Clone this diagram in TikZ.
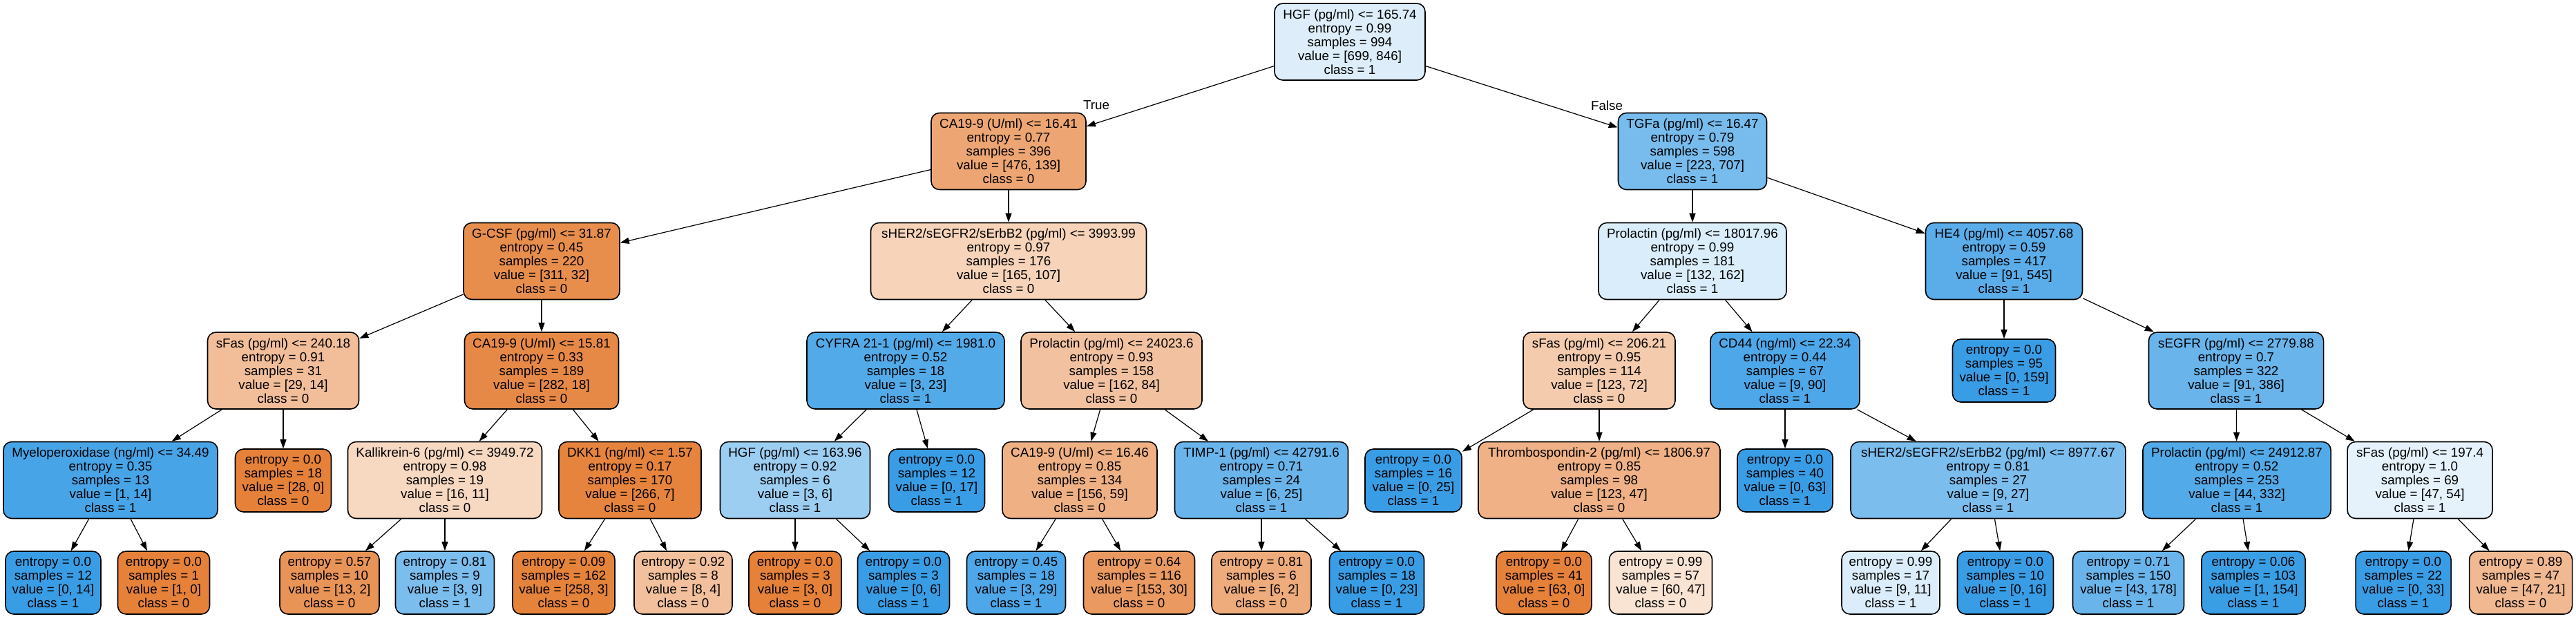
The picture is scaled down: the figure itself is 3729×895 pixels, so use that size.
\documentclass[tikz,border=0pt]{standalone}
\usepackage{fontspec}
\setmainfont{Liberation Sans}
\usetikzlibrary{arrows.meta}
\definecolor{cz}{RGB}{229,129,57}
\definecolor{co}{RGB}{57,157,229}
\tikzset{
  nd/.style={draw=black, line width=0.8pt, rounded corners=6pt, align=center, inner sep=0pt, font=\fontsize{9.4}{10}\selectfont},
  inn/.style={nd, minimum height=55.5pt},
  lf/.style={nd, minimum height=45.5pt},
  edge/.style={line width=0.6pt, -{Triangle[length=6.5pt,width=4.5pt]}},
  lbl/.style={font=\fontsize{9.4}{10}\selectfont, inner sep=0pt},
}
\begin{document}
\begin{tikzpicture}[x=0.5pt,y=-0.5pt]
\path[fill=white] (0,0) rectangle (3729,895);
\useasboundingbox (0,0) rectangle (3729,895);
% level 0
\node[inn, fill=co!17.4!white, minimum width=109pt] (n0) at (1954,60.5) {HGF (pg/ml) <= 165.74\\entropy = 0.99\\samples = 994\\value = [699, 846]\\class = 1};
% level 1
\node[inn, fill=cz!70.8!white, minimum width=112pt] (n1) at (1460,219) {CA19-9 (U/ml) <= 16.41\\entropy = 0.77\\samples = 396\\value = [476, 139]\\class = 0};
\node[inn, fill=co!68.5!white, minimum width=107.5pt] (n2) at (2450,219) {TGFa (pg/ml) <= 16.47\\entropy = 0.79\\samples = 598\\value = [223, 707]\\class = 1};
% level 2
\node[inn, fill=cz!89.7!white, minimum width=113pt] (n3) at (784,378) {G-CSF (pg/ml) <= 31.87\\entropy = 0.45\\samples = 220\\value = [311, 32]\\class = 0};
\node[inn, fill=cz!35.2!white, minimum width=199.5pt] (n4) at (1460,378) {sHER2/sEGFR2/sErbB2 (pg/ml) <= 3993.99\\entropy = 0.97\\samples = 176\\value = [165, 107]\\class = 0};
\node[inn, fill=co!18.5!white, minimum width=136pt] (n5) at (2450,378) {Prolactin (pg/ml) <= 18017.96\\entropy = 0.99\\samples = 181\\value = [132, 162]\\class = 1};
\node[inn, fill=co!83.3!white, minimum width=113.5pt] (n6) at (2901,378) {HE4 (pg/ml) <= 4057.68\\entropy = 0.59\\samples = 417\\value = [91, 545]\\class = 1};
% level 3
\node[inn, fill=cz!51.7!white, minimum width=109.5pt] (n7) at (410,536.5) {sFas (pg/ml) <= 240.18\\entropy = 0.91\\samples = 31\\value = [29, 14]\\class = 0};
\node[inn, fill=cz!93.6!white, minimum width=111.5pt] (n8) at (784,536.5) {CA19-9 (U/ml) <= 15.81\\entropy = 0.33\\samples = 189\\value = [282, 18]\\class = 0};
\node[inn, fill=co!87!white, minimum width=143pt] (n9) at (1311,536.5) {CYFRA 21-1 (pg/ml) <= 1981.0\\entropy = 0.52\\samples = 18\\value = [3, 23]\\class = 1};
\node[inn, fill=cz!48.1!white, minimum width=131pt] (n10) at (1609,536.5) {Prolactin (pg/ml) <= 24023.6\\entropy = 0.93\\samples = 158\\value = [162, 84]\\class = 0};
\node[inn, fill=cz!41.5!white, minimum width=110pt] (n11) at (2315,536.5) {sFas (pg/ml) <= 206.21\\entropy = 0.95\\samples = 114\\value = [123, 72]\\class = 0};
\node[inn, fill=co!90!white, minimum width=108pt] (n12) at (2584,536.5) {CD44 (ng/ml) <= 22.34\\entropy = 0.44\\samples = 67\\value = [9, 90]\\class = 1};
\node[lf, fill=co, minimum width=74.5pt] (n13) at (2901,536.5) {entropy = 0.0\\samples = 95\\value = [0, 159]\\class = 1};
\node[inn, fill=co!76.4!white, minimum width=126.5pt] (n14) at (3237,536.5) {sEGFR (pg/ml) <= 2779.88\\entropy = 0.7\\samples = 322\\value = [91, 386]\\class = 1};
% level 4
\node[inn, fill=co!92.9!white, minimum width=155pt] (n15) at (160,695) {Myeloperoxidase (ng/ml) <= 34.49\\entropy = 0.35\\samples = 13\\value = [1, 14]\\class = 1};
\node[lf, fill=cz, minimum width=69.5pt] (n16) at (410,695.5) {entropy = 0.0\\samples = 18\\value = [28, 0]\\class = 0};
\node[inn, fill=cz!31.3!white, minimum width=140.5pt] (n17) at (644,695) {Kallikrein-6 (pg/ml) <= 3949.72\\entropy = 0.98\\samples = 19\\value = [16, 11]\\class = 0};
\node[inn, fill=cz!97.4!white, minimum width=103pt] (n18) at (912,695) {DKK1 (ng/ml) <= 1.57\\entropy = 0.17\\samples = 170\\value = [266, 7]\\class = 0};
\node[inn, fill=co!50!white, minimum width=108.5pt] (n19) at (1151,695) {HGF (pg/ml) <= 163.96\\entropy = 0.92\\samples = 6\\value = [3, 6]\\class = 1};
\node[lf, fill=co, minimum width=69.5pt] (n20) at (1356,695.5) {entropy = 0.0\\samples = 12\\value = [0, 17]\\class = 1};
\node[inn, fill=cz!62.2!white, minimum width=112pt] (n21) at (1563,695) {CA19-9 (U/ml) <= 16.46\\entropy = 0.85\\samples = 134\\value = [156, 59]\\class = 0};
\node[inn, fill=co!76!white, minimum width=125.5pt] (n22) at (1826,695) {TIMP-1 (pg/ml) <= 42791.6\\entropy = 0.71\\samples = 24\\value = [6, 25]\\class = 1};
\node[lf, fill=co, minimum width=70pt] (n23) at (2046,695.5) {entropy = 0.0\\samples = 16\\value = [0, 25]\\class = 1};
\node[inn, fill=cz!61.8!white, minimum width=175pt] (n24) at (2315,695) {Thrombospondin-2 (pg/ml) <= 1806.97\\entropy = 0.85\\samples = 98\\value = [123, 47]\\class = 0};
\node[lf, fill=co, minimum width=69pt] (n25) at (2584,695.5) {entropy = 0.0\\samples = 40\\value = [0, 63]\\class = 1};
\node[inn, fill=co!66.7!white, minimum width=199pt] (n26) at (2878,695) {sHER2/sEGFR2/sErbB2 (pg/ml) <= 8977.67\\entropy = 0.81\\samples = 27\\value = [9, 27]\\class = 1};
\node[inn, fill=co!86.7!white, minimum width=136pt] (n27) at (3238,695) {Prolactin (pg/ml) <= 24912.87\\entropy = 0.52\\samples = 253\\value = [44, 332]\\class = 1};
\node[inn, fill=co!13!white, minimum width=105pt] (n28) at (3503,695) {sFas (pg/ml) <= 197.4\\entropy = 1.0\\samples = 69\\value = [47, 54]\\class = 1};
% level 5
\node[lf, fill=co, minimum width=69pt] (n29) at (77,843.5) {entropy = 0.0\\samples = 12\\value = [0, 14]\\class = 1};
\node[lf, fill=cz, minimum width=66.5pt] (n30) at (237,843.5) {entropy = 0.0\\samples = 1\\value = [1, 0]\\class = 0};
\node[lf, fill=cz!84.6!white, minimum width=72pt] (n31) at (477,843.5) {entropy = 0.57\\samples = 10\\value = [13, 2]\\class = 0};
\node[lf, fill=co!66.7!white, minimum width=71.5pt] (n32) at (644,843.5) {entropy = 0.81\\samples = 9\\value = [3, 9]\\class = 1};
\node[lf, fill=cz!98.8!white, minimum width=74pt] (n33) at (816,843.5) {entropy = 0.09\\samples = 162\\value = [258, 3]\\class = 0};
\node[lf, fill=cz!50!white, minimum width=71pt] (n34) at (989,843.5) {entropy = 0.92\\samples = 8\\value = [8, 4]\\class = 0};
\node[lf, fill=cz, minimum width=67pt] (n35) at (1151,843.5) {entropy = 0.0\\samples = 3\\value = [3, 0]\\class = 0};
\node[lf, fill=co, minimum width=66.5pt] (n36) at (1308,843.5) {entropy = 0.0\\samples = 3\\value = [0, 6]\\class = 1};
\node[lf, fill=co!89.7!white, minimum width=71.5pt] (n37) at (1471,843.5) {entropy = 0.45\\samples = 18\\value = [3, 29]\\class = 1};
\node[lf, fill=cz!80.4!white, minimum width=80.5pt] (n38) at (1649,843.5) {entropy = 0.64\\samples = 116\\value = [153, 30]\\class = 0};
\node[lf, fill=cz!66.7!white, minimum width=72pt] (n39) at (1826,843.5) {entropy = 0.81\\samples = 6\\value = [6, 2]\\class = 0};
\node[lf, fill=co, minimum width=68.5pt] (n40) at (1993,843.5) {entropy = 0.0\\samples = 18\\value = [0, 23]\\class = 1};
\node[lf, fill=cz, minimum width=69pt] (n41) at (2235,843.5) {entropy = 0.0\\samples = 41\\value = [63, 0]\\class = 0};
\node[lf, fill=cz!21.7!white, minimum width=74.5pt] (n42) at (2404,843.5) {entropy = 0.99\\samples = 57\\value = [60, 47]\\class = 0};
\node[lf, fill=co!18.2!white, minimum width=71pt] (n43) at (2737,843.5) {entropy = 0.99\\samples = 17\\value = [9, 11]\\class = 1};
\node[lf, fill=co, minimum width=69.5pt] (n44) at (2903,843.5) {entropy = 0.0\\samples = 10\\value = [0, 16]\\class = 1};
\node[lf, fill=co!75.8!white, minimum width=80.5pt] (n45) at (3081,843.5) {entropy = 0.71\\samples = 150\\value = [43, 178]\\class = 1};
\node[lf, fill=co!99.4!white, minimum width=75pt] (n46) at (3262,843.5) {entropy = 0.06\\samples = 103\\value = [1, 154]\\class = 1};
\node[lf, fill=co, minimum width=69pt] (n47) at (3479,843.5) {entropy = 0.0\\samples = 22\\value = [0, 33]\\class = 1};
\node[lf, fill=cz!55.3!white, minimum width=74.5pt] (n48) at (3649,843.5) {entropy = 0.89\\samples = 47\\value = [47, 21]\\class = 0};
% labels
\node[lbl] (tl) at (1587,152) {True};
\node[lbl] (fl) at (2326,153) {False};
% edges
\draw[edge] (n0) -- (n1);
\draw[edge] (n0) -- (n2);
\draw[edge] (n1) -- (n3);
\draw[edge] (n1) -- (n4);
\draw[edge] (n2) -- (n5);
\draw[edge] (n2) -- (n6);
\draw[edge] (n3) -- (n7);
\draw[edge] (n3) -- (n8);
\draw[edge] (n4) -- (n9);
\draw[edge] (n4) -- (n10);
\draw[edge] (n5) -- (n11);
\draw[edge] (n5) -- (n12);
\draw[edge] (n6) -- (n13);
\draw[edge] (n6) -- (n14);
\draw[edge] (n7) -- (n15);
\draw[edge] (n7) -- (n16);
\draw[edge] (n8) -- (n17);
\draw[edge] (n8) -- (n18);
\draw[edge] (n9) -- (n19);
\draw[edge] (n9) -- (n20);
\draw[edge] (n10) -- (n21);
\draw[edge] (n10) -- (n22);
\draw[edge] (n11) -- (n23);
\draw[edge] (n11) -- (n24);
\draw[edge] (n12) -- (n25);
\draw[edge] (n12) -- (n26);
\draw[edge] (n14) -- (n27);
\draw[edge] (n14) -- (n28);
\draw[edge] (n15) -- (n29);
\draw[edge] (n15) -- (n30);
\draw[edge] (n17) -- (n31);
\draw[edge] (n17) -- (n32);
\draw[edge] (n18) -- (n33);
\draw[edge] (n18) -- (n34);
\draw[edge] (n19) -- (n35);
\draw[edge] (n19) -- (n36);
\draw[edge] (n21) -- (n37);
\draw[edge] (n21) -- (n38);
\draw[edge] (n22) -- (n39);
\draw[edge] (n22) -- (n40);
\draw[edge] (n24) -- (n41);
\draw[edge] (n24) -- (n42);
\draw[edge] (n26) -- (n43);
\draw[edge] (n26) -- (n44);
\draw[edge] (n27) -- (n45);
\draw[edge] (n27) -- (n46);
\draw[edge] (n28) -- (n47);
\draw[edge] (n28) -- (n48);
\end{tikzpicture}
\end{document}
